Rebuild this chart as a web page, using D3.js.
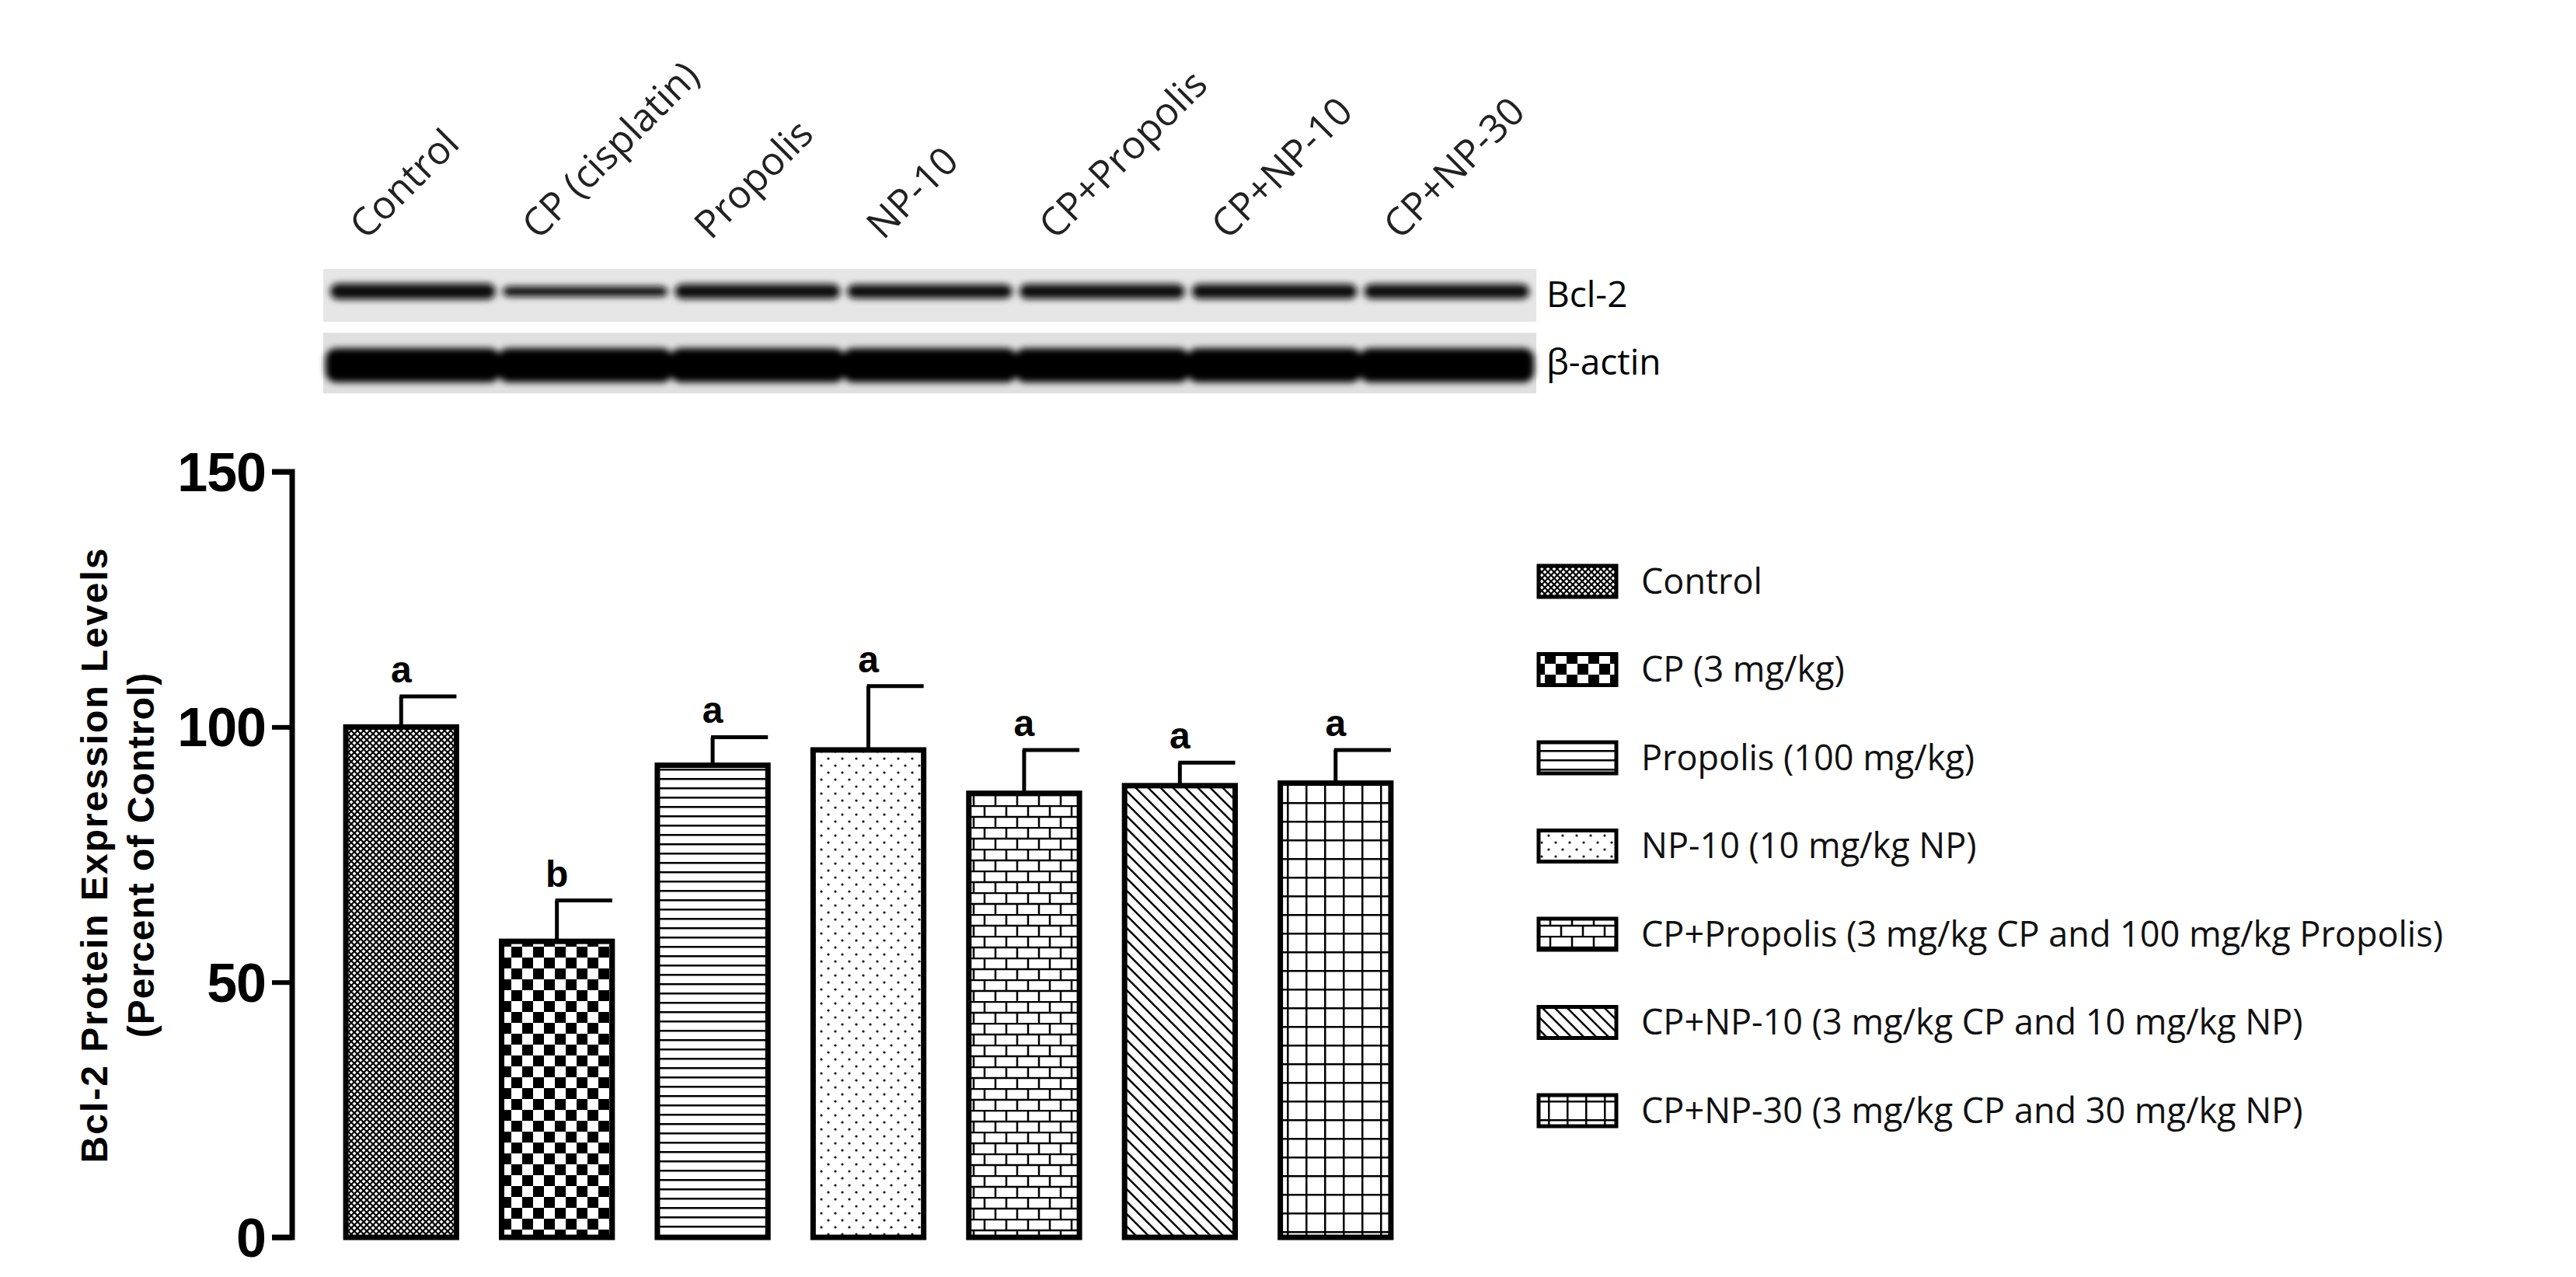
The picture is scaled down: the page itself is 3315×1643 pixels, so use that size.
<!DOCTYPE html><html><head><meta charset="utf-8"><script src="https://cdn.jsdelivr.net/npm/d3@7"></script>
<style>body{margin:0;background:#fff}</style></head><body><svg id="c" width="3315" height="1643"></svg>
<script>
const groups=["Control","CP (cisplatin)","Propolis","NP-10","CP+Propolis","CP+NP-10","CP+NP-30"];
const legendLabels=["Control","CP (3 mg/kg)","Propolis (100 mg/kg)","NP-10 (10 mg/kg NP)","CP+Propolis (3 mg/kg CP and 100 mg/kg Propolis)","CP+NP-10 (3 mg/kg CP and 10 mg/kg NP)","CP+NP-30  (3 mg/kg CP and 30 mg/kg NP)"];
const means=[100,58,92.5,95.5,87,88.5,89];
const errs=[6,8,5.5,12.5,8.5,4.5,6.5];
const letters=["a","b","a","a","a","a","a"];
const yTicks=[0,50,100,150];
const bcl2=[0.85,0.55,0.8,0.75,0.8,0.8,0.8];
const svg=d3.select("#c");
const defs=svg.append("defs");
defs.append("filter").attr("id","bl").append("feGaussianBlur").attr("stdDeviation",4);
const pats=[];
function pat(id,s,draw){const p=defs.append("pattern").attr("id",id).attr("patternUnits","userSpaceOnUse").attr("width",s).attr("height",s);p.append("rect").attr("width",s).attr("height",s).attr("fill","#fff");draw(p,s);pats.push("url(#"+id+")");}
pat("p0",8,(p,s)=>{p.append("path").attr("d","M0,0L8,8M8,0L0,8").attr("stroke","#000").attr("stroke-width",2.2);});
pat("p1",28,(p,s)=>{p.append("rect").attr("width",14).attr("height",14).attr("fill","#000");p.append("rect").attr("x",14).attr("y",14).attr("width",14).attr("height",14).attr("fill","#000");});
pat("p2",12,(p,s)=>{p.append("rect").attr("y",5).attr("width",12).attr("height",2.5).attr("fill","#000");});
pat("p3",18,(p,s)=>{p.append("circle").attr("cx",4).attr("cy",4).attr("r",1.6);p.append("circle").attr("cx",13).attr("cy",13).attr("r",1.6);});
pat("p4",28,(p,s)=>{p.append("path").attr("d","M0,1H28M0,15H28M7,1V15M21,15V28").attr("stroke","#000").attr("stroke-width",2.5).attr("fill","none");});
pat("p5",16,(p,s)=>{p.append("path").attr("d","M0,0L16,16M-8,8L8,24M8,-8L24,8").attr("stroke","#000").attr("stroke-width",2.5);});
pat("p6",24,(p,s)=>{p.append("path").attr("d","M0,1H24M1,0V24").attr("stroke","#000").attr("stroke-width",3);});

const x=d3.scaleBand().domain(groups).range([405,1830]).paddingInner(0.29).paddingOuter(0.2);
const y=d3.scaleLinear().domain([0,150]).range([1592,607]);
const ax=svg.append("g").attr("transform","translate(376,0)").call(d3.axisLeft(y).tickValues(yTicks).tickSize(26).tickPadding(8));
ax.select(".domain").attr("stroke-width",7).attr("d","M-26,607H0V1592H-26");
ax.selectAll(".tick line").attr("stroke-width",6);
ax.selectAll("text").attr("font-family","Liberation Sans, Arial").attr("font-weight","bold").attr("font-size",70).attr("letter-spacing",-1).attr("dy","0.35em");
svg.append("text").attr("transform","translate(138,1100) rotate(-90)").attr("text-anchor","middle").attr("font-family","Liberation Sans, Arial").attr("font-weight","bold").attr("font-size",48).attr("letter-spacing",2).text("Bcl-2 Protein Expression Levels");
svg.append("text").attr("transform","translate(198,1100) rotate(-90)").attr("text-anchor","middle").attr("font-family","Liberation Sans, Arial").attr("font-weight","bold").attr("font-size",48).attr("letter-spacing",1).text("(Percent of Control)");
const g=svg.append("g");
groups.forEach((d,i)=>{
 const cx=x(d)+x.bandwidth()/2;
 g.append("line").attr("x1",cx).attr("x2",cx).attr("y1",y(means[i])).attr("y2",y(means[i]+errs[i])).attr("stroke","#000").attr("stroke-width",5);
 g.append("line").attr("x1",cx-2).attr("x2",cx+x.bandwidth()/2).attr("y1",y(means[i]+errs[i])).attr("y2",y(means[i]+errs[i])).attr("stroke","#000").attr("stroke-width",5);
 g.append("rect").attr("x",x(d)).attr("y",y(means[i])).attr("width",x.bandwidth()).attr("height",y(0)-y(means[i])).attr("fill",pats[i]).attr("stroke","#000").attr("stroke-width",7);
 g.append("text").attr("x",cx).attr("y",y(means[i]+errs[i])-18).attr("text-anchor","middle").attr("font-family","Liberation Sans, Arial").attr("font-weight","bold").attr("font-size",48).text(letters[i]);
});
// blot
const bx=d3.scaleBand().domain(groups).range([416,1977]).padding(0.04);
const b=svg.append("g");
b.append("rect").attr("x",416).attr("y",346).attr("width",1561).attr("height",68).attr("fill","#e6e6e6");
b.append("rect").attr("x",416).attr("y",428).attr("width",1561).attr("height",78).attr("fill","#e0e0e0");
const bb=b.append("g").attr("filter","url(#bl)");
groups.forEach((d,i)=>{
 bb.append("rect").attr("x",bx(d)).attr("y",375-bcl2[i]*12).attr("width",bx.bandwidth()).attr("height",bcl2[i]*24).attr("rx",10).attr("fill","#111");
 bb.append("rect").attr("x",bx(d)-6).attr("y",448).attr("width",bx.bandwidth()+12).attr("height",44).attr("rx",14).attr("fill","#000");
 svg.append("text").attr("transform",`translate(${bx(d)+bx.bandwidth()/2-60},310) rotate(-45)`).attr("font-family","Open Sans, Noto Sans").attr("font-size",50).attr("fill","#222").text(d);
});
svg.append("text").attr("x",1990).attr("y",395).attr("font-family","Open Sans, Noto Sans").attr("font-size",46).text("Bcl-2");
svg.append("text").attr("x",1990).attr("y",482).attr("font-family","Open Sans, Noto Sans").attr("font-size",46).text("β-actin");
// legend
const ly=d3.scalePoint().domain(legendLabels).range([748,1429]);
legendLabels.forEach((d,i)=>{
 svg.append("rect").attr("x",1980).attr("y",ly(d)-20).attr("width",100).attr("height",40).attr("fill",pats[i]).attr("stroke","#000").attr("stroke-width",5);
 svg.append("text").attr("x",2112).attr("y",ly(d)).attr("dy","0.35em").attr("font-family","Open Sans, Noto Sans").attr("font-size",45).attr("fill","#111").text(d);
});
</script></body></html>
